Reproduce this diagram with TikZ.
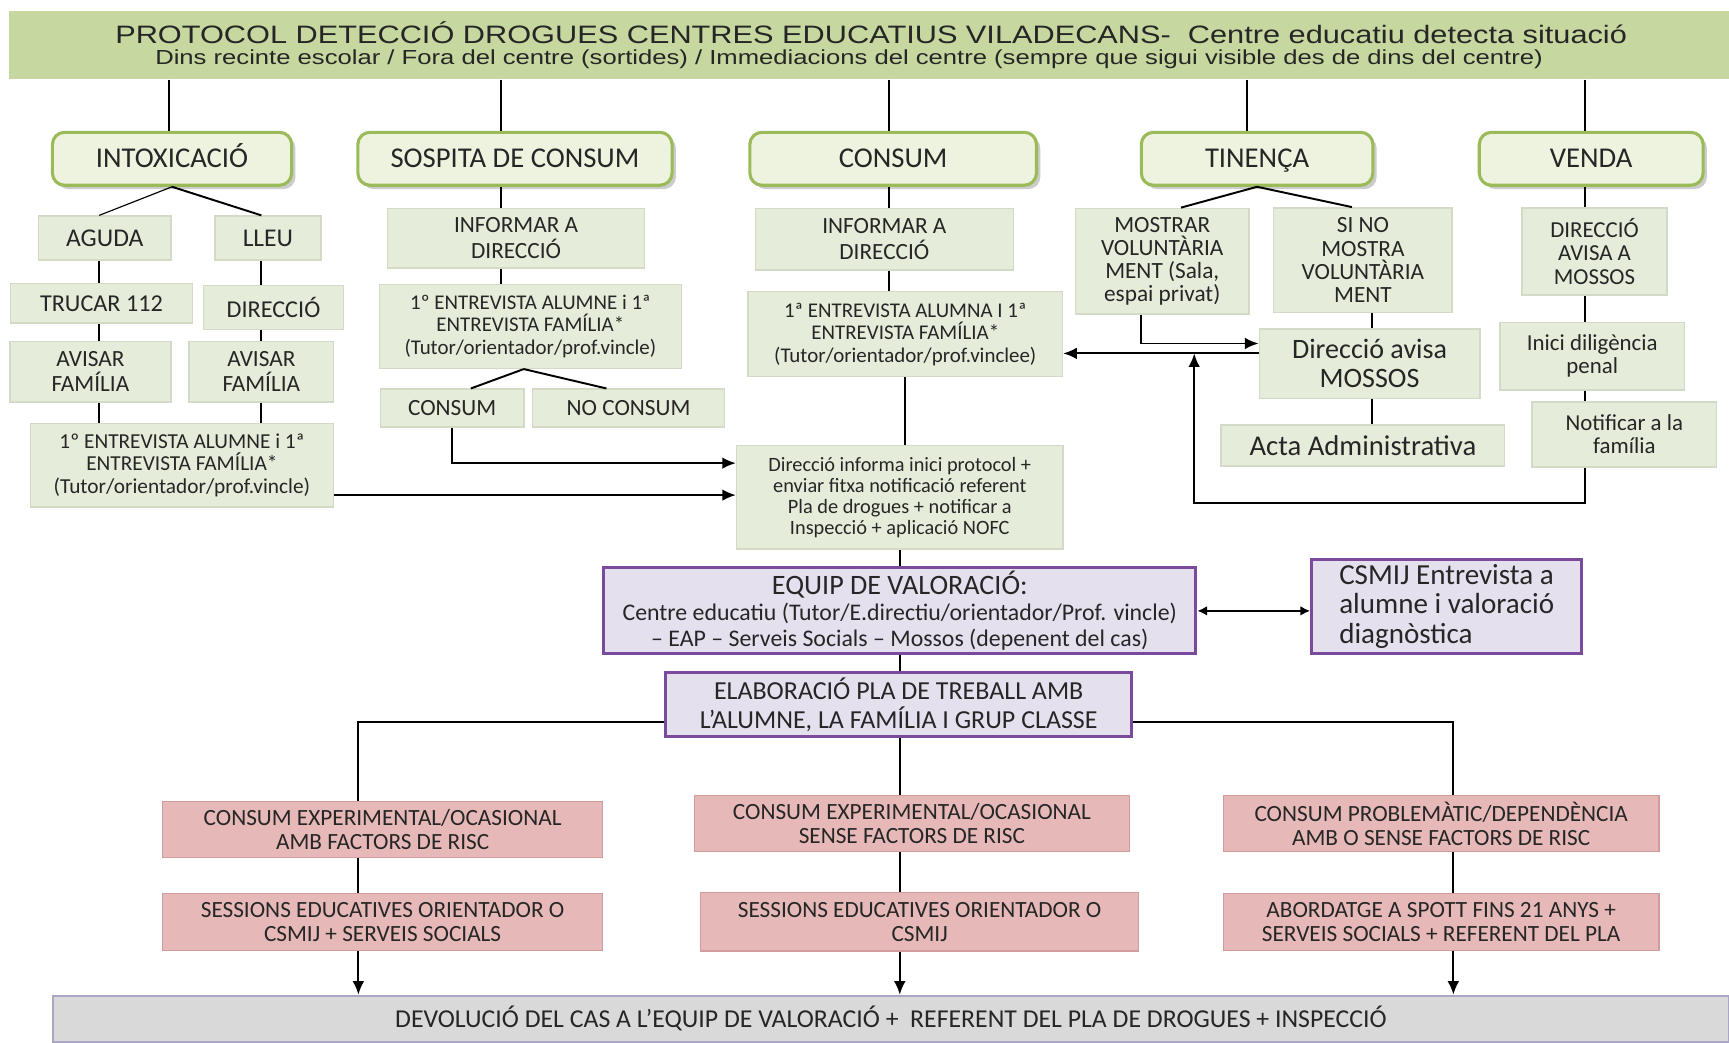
\documentclass[tikz,border=0pt]{standalone}
\usepackage{fontspec}
\setmainfont{Carlito}
\newfontfamily\titolfont{Liberation Sans}
\usetikzlibrary{arrows.meta,shadows}

\definecolor{bandaverd}{HTML}{C6D89F}
\definecolor{verdvora}{HTML}{9BBB59}
\definecolor{verdfons}{HTML}{EEF3DF}
\definecolor{caixafons}{HTML}{E6ECDA}
\definecolor{caixavora}{HTML}{D3DAC6}
\definecolor{liladark}{HTML}{7A4B9C}
\definecolor{lilafons}{HTML}{E5E0EE}
\definecolor{rosafons}{HTML}{E6B9B8}
\definecolor{rosavora}{HTML}{D19C9B}
\definecolor{grisfons}{HTML}{D9D9D9}
\definecolor{grisvora}{HTML}{ABA5C6}

\begin{document}
\begin{tikzpicture}[x=0.02cm, y=-0.02cm,
    every node/.style={text=black!85},
    mida/.style 2 args={minimum width=#1cm, minimum height=#2cm},
    lletra/.style 2 args={font=\fontsize{#1}{#2}\selectfont},
    categoria/.style={draw=verdvora, line width=1.6pt, fill=verdfons, rounded corners=0.22cm,
        drop shadow={shadow xshift=0.07cm, shadow yshift=-0.07cm, fill=black!40},
        lletra={14.8}{16}, text height=10pt, text depth=1pt, inner sep=0pt},
    capsa/.style={draw=caixavora, line width=0.8pt, fill=caixafons, align=center, inner sep=0pt},
    capsalila/.style={draw=liladark, line width=1.6pt, fill=lilafons, align=center, inner sep=0pt},
    capsarosa/.style={draw=rosavora, line width=0.6pt, fill=rosafons, align=center, inner sep=0pt, lletra={12}{12.6}},
    capsagris/.style={draw=grisvora, line width=1pt, fill=grisfons, inner sep=0pt, lletra={13.3}{15}},
    linia/.style={line width=1pt},
    fletxa/.style={line width=1pt, -{Latex[length=7pt,width=6pt]}}]

    \useasboundingbox (0,0) rectangle (1568,945);

    % Capcalera
    \node[fill=bandaverd, mida={31.2}{1.24}, inner sep=0pt] (banda) at (788,41) {};
    \node[font=\titolfont\fontsize{13}{15}\selectfont] (titol) at (790,30)
        {\scalebox{1.22}[1]{PROTOCOL DETECCIÓ DROGUES CENTRES EDUCATIUS VILADECANS-\ \ Centre educatiu detecta situació}};
    \node[font=\titolfont\fontsize{10.5}{12}\selectfont] (subtitol) at (770,54)
        {\scalebox{1.26}[1]{Dins recinte escolar / Fora del centre (sortides) / Immediacions del centre (sempre que sigui visible des de dins del centre)}};

    % Eixos verticals
    \coordinate (eixi) at (153,0);
    \coordinate (eixs) at (454,0);
    \coordinate (eixc) at (806,0);
    \coordinate (eixt) at (1131,0);
    \coordinate (eixv) at (1437,0);
    \coordinate (eixa) at (90,0);
    \coordinate (eixl) at (237,0);
    \coordinate (eixd) at (1244,0);
    \coordinate (eixm) at (816,0);
    \coordinate (col1) at (325,0);
    \coordinate (col3) at (1318,0);

    % Situacions
    \node[categoria, mida={4.34}{0.96}] (intox) at (156,144) {INTOXICACIÓ};
    \node[categoria, mida={5.7}{0.96}] (sospita) at (467,144) {SOSPITA DE CONSUM};
    \node[categoria, mida={5.2}{0.96}] (consum) at (810,144) {CONSUM};
    \node[categoria, mida={4.2}{0.96}] (tinenca) at (1140,144) {TINENÇA};
    \node[categoria, mida={4.06}{0.96}] (venda) at (1443,144) {VENDA};

    \foreach \n/\e in {intox/eixi, sospita/eixs, consum/eixc, tinenca/eixt, venda/eixv} {
        \draw[linia] (banda.south -| \e) -- (\n.north -| \e);
    }

    % Intoxicacio
    \node[capsa, mida={2.4}{0.8}, lletra={13.2}{14}] (aguda) at (95,216) {AGUDA};
    \node[capsa, mida={1.92}{0.8}, lletra={13.2}{14}] (lleu) at (243,216) {LLEU};
    \node[capsa, mida={3.3}{0.72}, lletra={12.5}{14}] (trucar) at (92,275) {TRUCAR 112};
    \node[capsa, mida={2.54}{0.8}, lletra={12.5}{14}] (direccio) at (248,279) {DIRECCIÓ};
    \node[capsa, mida={2.92}{1.1}, lletra={12}{13}] (avisar1) at (82,337) {AVISAR\\FAMÍLIA};
    \node[capsa, mida={2.62}{1.1}, lletra={12}{13}] (avisar2) at (237,337) {AVISAR\\FAMÍLIA};
    \node[capsa, mida={5.5}{1.52}, lletra={11}{11.6}] (entrev1) at (165,422)
        {1º ENTREVISTA ALUMNE i 1ª\\ENTREVISTA FAMÍLIA*\\(Tutor/orientador/prof.vincle)};

    \draw[line width=0.6pt] (intox.south) -- (aguda.north -| eixa);
    \draw[linia] (intox.south) -- (lleu.north -| eixl);
    \foreach \a/\b in {aguda/trucar, trucar/avisar1, avisar1/entrev1} {
        \draw[linia] (\a.south -| eixa) -- (\b.north -| eixa);
    }
    \foreach \a/\b in {lleu/direccio, direccio/avisar2, avisar2/entrev1} {
        \draw[linia] (\a.south -| eixl) -- (\b.north -| eixl);
    }

    % Sospita de consum
    \node[capsa, mida={4.66}{1.08}, lletra={12}{13.5}] (inf1) at (468,216) {INFORMAR A\\DIRECCIÓ};
    \node[capsa, mida={5.48}{1.52}, lletra={10.8}{11.6}] (entrev2) at (481,296)
        {1º ENTREVISTA ALUMNE i 1ª\\ENTREVISTA FAMÍLIA*\\(Tutor/orientador/prof.vincle)};
    \node[capsa, mida={2.6}{0.68}, lletra={12}{14}] (si) at (410,370) {CONSUM};
    \node[capsa, mida={3.48}{0.68}, lletra={12}{14}] (no) at (570,370) {NO CONSUM};

    \foreach \a/\b in {sospita/inf1, inf1/entrev2} {
        \draw[linia] (\a.south -| eixs) -- (\b.north -| eixs);
    }
    \draw[linia] ([xshift=-0.12cm]entrev2.south) -- ([xshift=0.34cm]si.north);
    \draw[linia] ([xshift=-0.12cm]entrev2.south) -- ([xshift=-0.4cm]no.north);

    % Consum
    \node[capsa, mida={4.68}{1.12}, lletra={12}{13.5}] (inf2) at (802,217) {INFORMAR A\\DIRECCIÓ};
    \node[capsa, mida={5.7}{1.54}, lletra={10.8}{11.6}] (entrev3) at (821,303)
        {1ª ENTREVISTA ALUMNA I 1ª\\ENTREVISTA FAMÍLIA*\\(Tutor/orientador/prof.vinclee)};
    \node[capsa, mida={5.92}{1.88}, lletra={10.5}{10.8}] (dirinf) at (816,451)
        {Direcció informa inici protocol +\\enviar fitxa notificació referent\\Pla de drogues + notificar a\\Inspecció + aplicació NOFC};

    \foreach \a/\b in {consum/inf2, inf2/entrev3} {
        \draw[linia] (\a.south -| eixc) -- (\b.north -| eixc);
    }
    \draw[linia] (entrev3.south) -- (dirinf.north -| entrev3.south);
    \draw[fletxa] (si.south) |- ([yshift=0.62cm]dirinf.west);
    \draw[fletxa] ([yshift=-0.54cm]entrev1.east) -- ([yshift=-0.54cm]entrev1.east -| dirinf.west);

    % Tinenca
    \node[capsa, mida={3.14}{1.92}, lletra={12}{12}] (mostrar) at (1054,237)
        {MOSTRAR\\VOLUNTÀRIA\\MENT (Sala,\\espai privat)};
    \node[capsa, mida={3.24}{1.9}, lletra={12}{12}] (sino) at (1236,236)
        {SI NO\\MOSTRA\\VOLUNTÀRIA\\MENT};
    \node[capsa, mida={4.0}{1.26}, lletra={14.5}{15}] (diravisa) at (1242,330) {Direcció avisa\\MOSSOS};
    \node[capsa, mida={5.14}{0.74}, lletra={14.8}{16}] (acta) at (1236,404) {Acta Administrativa};

    \draw[linia] (tinenca.south) -- ([xshift=0.34cm]mostrar.north);
    \draw[linia] (tinenca.south) -- ([xshift=-0.2cm]sino.north);
    \foreach \a/\b in {sino/diravisa, diravisa/acta} {
        \draw[linia] (\a.south -| eixd) -- (\b.north -| eixd);
    }
    \draw[fletxa] ([xshift=-0.38cm]mostrar.south) |- ([yshift=0.37cm]diravisa.west);
    \coordinate (retorn) at ([yshift=0.19cm]diravisa.west);
    \draw[fletxa] (retorn) -- (retorn -| entrev3.east);

    % Venda
    \node[capsa, mida={2.64}{1.58}, lletra={11.8}{12.3}] (davisa) at (1446,228) {DIRECCIÓ\\AVISA A\\MOSSOS};
    \node[capsa, mida={3.34}{1.22}, lletra={11.8}{12}] (inici) at (1444,323) {Inici diligència\\penal};
    \node[capsa, mida={3.34}{1.18}, lletra={11.8}{12}] (notif) at (1473,394) {Notificar a la\\família};

    \foreach \a/\b in {venda/davisa, davisa/inici, inici/notif} {
        \draw[linia] (\a.south -| eixv) -- (\b.north -| eixv);
    }
    \coordinate (bucle) at (1083,456);
    \draw[fletxa] (notif.south -| eixv) |- (bucle) -- (bucle |- retorn);

    % Equip de valoracio
    \node[capsalila, mida={10.74}{1.56}, lletra={12.3}{13.3}] (equip) at (816,554)
        {{\fontsize{14.5}{14.5}\selectfont EQUIP DE VALORACIÓ:}\\Centre educatiu (Tutor/E.directiu/orientador/Prof. vincle)\\– EAP – Serveis Socials – Mossos (depenent del cas)};
    \node[capsalila, mida={4.9}{1.72}, align=left, lletra={15}{15.2}] (csmij) at (1312,550)
        {CSMIJ Entrevista a\\alumne i valoració\\diagnòstica};
    \node[capsalila, mida={8.46}{1.16}, lletra={13.4}{15.2}] (elab) at (815,639)
        {ELABORACIÓ PLA DE TREBALL AMB\\L’ALUMNE, LA FAMÍLIA I GRUP CLASSE};

    \draw[linia] (dirinf.south -| eixm) -- (equip.north -| eixm);
    \draw[linia, {Latex[length=5pt,width=5pt]}-{Latex[length=5pt,width=5pt]}] (equip.east) -- (equip.east -| csmij.west);
    \draw[linia] (equip.south -| eixm) -- (elab.north -| eixm);

    % Tipus de consum
    \node[capsarosa, mida={7.98}{1.02}] (r1) at (347,752) {CONSUM EXPERIMENTAL/OCASIONAL\\AMB FACTORS DE RISC};
    \node[capsarosa, mida={7.9}{1.02}] (r2) at (827,747) {CONSUM EXPERIMENTAL/OCASIONAL\\SENSE FACTORS DE RISC};
    \node[capsarosa, mida={7.9}{1.02}] (r3) at (1307,747) {CONSUM PROBLEMÀTIC/DEPENDÈNCIA\\AMB O SENSE FACTORS DE RISC};
    \node[capsarosa, mida={7.98}{1.04}] (s1) at (347,836) {SESSIONS EDUCATIVES ORIENTADOR O\\CSMIJ + SERVEIS SOCIALS};
    \node[capsarosa, mida={7.94}{1.06}] (s2) at (834,836) {SESSIONS EDUCATIVES ORIENTADOR O\\CSMIJ};
    \node[capsarosa, mida={7.9}{1.04}] (s3) at (1307,836) {ABORDATGE A SPOTT FINS 21 ANYS +\\SERVEIS SOCIALS + REFERENT DEL PLA};

    % Devolucio
    \node[capsagris, mida={30.4}{0.84}] (devol) at (808,924)
        {DEVOLUCIÓ DEL CAS A L’EQUIP DE VALORACIÓ +\ \ REFERENT DEL PLA DE DROGUES + INSPECCIÓ};

    \draw[linia] ([yshift=-0.32cm]elab.west) -| (r1.north -| col1);
    \draw[linia] (elab.south -| eixm) -- (r2.north -| eixm);
    \draw[linia] ([yshift=-0.32cm]elab.east) -| (r3.north -| col3);
    \foreach \a/\b/\c in {r1/s1/col1, r2/s2/eixm, r3/s3/col3} {
        \draw[linia] (\a.south -| \c) -- (\b.north -| \c);
        \draw[fletxa] (\b.south -| \c) -- (devol.north -| \c);
    }
\end{tikzpicture}
\end{document}
